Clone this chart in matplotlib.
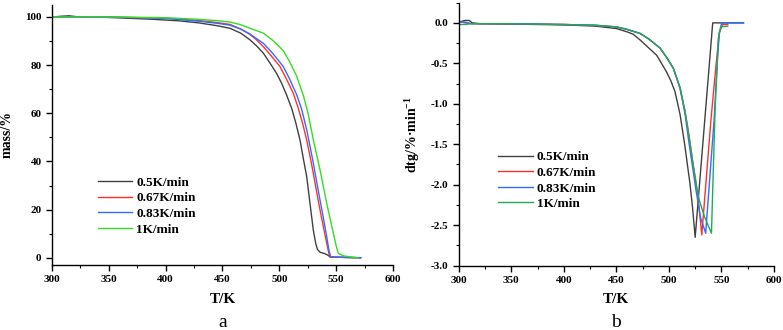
import matplotlib
matplotlib.use("Agg")
import matplotlib.pyplot as plt
from matplotlib.ticker import MultipleLocator, FormatStrFormatter

plt.rcParams['font.family'] = ['Liberation Serif', 'DejaVu Serif']
plt.rcParams['mathtext.fontset'] = 'custom'
plt.rcParams['mathtext.rm'] = 'Liberation Serif:bold'
plt.rcParams['mathtext.bf'] = 'Liberation Serif:bold'
plt.rcParams['mathtext.default'] = 'bf'

labels = ['0.5K/min', '0.67K/min', '0.83K/min', '1K/min']
colors_a = ['#404040', '#ff3030', '#2f6fff', '#33dd22']
colors_b = ['#404040', '#ff3030', '#2f6fff', '#22aa55']

# Panel a: TG mass (%)
tg_T = [
    [300, 308, 315, 322, 350, 386, 412, 430, 445, 456.6, 466, 474.2, 480, 485.9, 492, 497.7, 502, 506.5, 510.9, 514.5, 518.2, 521, 524.1, 527, 529.9, 532, 533.5, 535.8, 540, 543, 544.6, 571],
    [300, 350, 400, 430, 445, 456.6, 466, 474, 480, 485.9, 493, 500.6, 506, 512.3, 516.7, 520.5, 524.1, 527, 529.9, 532.8, 535.8, 538.8, 541.7, 543.5, 544.6, 571],
    [300, 350, 400, 430, 445, 456.6, 466, 474, 480, 485.9, 494, 503.5, 509, 515.2, 519.6, 524.1, 527, 529.9, 532.8, 535.8, 538.8, 541.7, 543.5, 545.2, 572],
    [300, 350, 400, 430, 445, 456.6, 466, 476, 485.9, 495, 503.5, 509, 515.2, 521.1, 525.5, 529.9, 535.8, 541.7, 547.5, 550, 551.9, 556.3, 562, 569.5],
]
tg_m = [
    [100, 100.3, 100.5, 100.1, 99.8, 99.1, 98.4, 97.5, 96.4, 95.3, 93.3, 90.5, 88.0, 85.0, 80.7, 76.5, 72.5, 67.5, 62.0, 56.0, 48.9, 41.5, 33.7, 22.5, 11.5, 6.0, 3.5, 2.3, 1.7, 1.0, 0.3, 0],
    [100, 100, 99.5, 98.5, 97.7, 96.9, 95.0, 92.8, 90.5, 87.7, 83.8, 79.4, 74.5, 68.3, 62.1, 55.8, 48.9, 42.2, 35.1, 27.5, 19.9, 12.8, 6.0, 2.0, 0.3, 0],
    [100, 100, 99.4, 98.2, 97.4, 96.6, 95.0, 93.0, 91.0, 89.1, 85.0, 79.4, 74.3, 67.8, 61.8, 53.1, 46.3, 39.3, 31.7, 24.0, 16.4, 8.8, 3.5, 0.3, 0],
    [100, 100, 99.7, 99.0, 98.5, 97.9, 96.8, 95.0, 93.3, 90.0, 86.0, 81.5, 75.5, 67.5, 59.5, 49.0, 36.5, 22.6, 10.2, 5.0, 1.9, 0.8, 0.4, 0],
]

# Panel b: DTG (%/min)
dtg_T = [
    [300, 303, 306, 310, 313, 320, 350, 400, 430, 450, 460, 466, 472.5, 480, 488.4, 493, 497.9, 502, 505.8, 510.6, 515, 520, 522.5, 525, 541.7, 571],
    [300, 306, 312, 330, 350, 400, 430, 450, 460, 472.5, 481, 491.5, 498, 504.2, 510.6, 515.3, 519.3, 522.5, 525.6, 528.5, 531.3, 540, 545, 548, 551, 556],
    [300, 306, 312, 330, 350, 400, 430, 450, 460, 472.5, 481, 491.5, 498, 504.2, 510.6, 515.3, 519.3, 525.6, 530, 535, 543, 546, 548, 550.3, 571],
    [300, 306, 312, 330, 350, 400, 430, 450, 460, 472.5, 481, 491.5, 498, 504.2, 510.6, 515.3, 519.3, 525.6, 528.9, 534, 540.5, 543.9, 547, 548.6, 549.5, 556],
]
dtg_v = [
    [0.0, 0.02, 0.03, 0.03, 0.0, -0.01, -0.015, -0.025, -0.04, -0.07, -0.11, -0.14, -0.21, -0.30, -0.40, -0.50, -0.61, -0.72, -0.85, -1.13, -1.50, -1.98, -2.28, -2.65, 0.0, 0.0],
    [0.02, 0.0, -0.01, -0.01, -0.01, -0.02, -0.03, -0.05, -0.08, -0.13, -0.20, -0.31, -0.43, -0.56, -0.80, -1.09, -1.40, -1.70, -1.95, -2.25, -2.62, -1.20, -0.50, -0.12, -0.02, -0.02],
    [0.01, 0.01, -0.01, -0.01, -0.01, -0.02, -0.03, -0.05, -0.08, -0.13, -0.20, -0.31, -0.43, -0.56, -0.81, -1.12, -1.50, -2.05, -2.40, -2.60, -1.20, -0.50, -0.12, 0.0, 0.0],
    [-0.02, -0.02, -0.01, -0.01, -0.01, -0.02, -0.03, -0.05, -0.08, -0.13, -0.20, -0.31, -0.43, -0.56, -0.80, -1.09, -1.42, -1.98, -2.19, -2.40, -2.60, -1.09, -0.19, -0.10, -0.05, -0.04],
]

fig = plt.figure(figsize=(7.83, 3.3), dpi=100)
ax1 = fig.add_axes([0.0664, 0.197, 0.4355, 0.788])
ax2 = fig.add_axes([0.5858, 0.195, 0.4027, 0.797])

for T, m, c, lab in zip(tg_T, tg_m, colors_a, labels):
    ax1.plot(T, m, color=c, lw=1.0, label=lab)
for T, v, c, lab in zip(dtg_T, dtg_v, colors_b, labels):
    ax2.plot(T, v, color=c, lw=1.0, label=lab)

ax1.set_xlim(300, 600)
ax1.set_ylim(-3, 105)
ax1.xaxis.set_major_locator(MultipleLocator(50))
ax1.xaxis.set_minor_locator(MultipleLocator(25))
ax1.yaxis.set_major_locator(MultipleLocator(20))
ax1.yaxis.set_minor_locator(MultipleLocator(10))

ax2.set_xlim(300, 600)
ax2.set_ylim(-3, 0.25)
ax2.xaxis.set_major_locator(MultipleLocator(50))
ax2.xaxis.set_minor_locator(MultipleLocator(25))
ax2.yaxis.set_major_locator(MultipleLocator(0.5))
ax2.yaxis.set_minor_locator(MultipleLocator(0.25))
ax2.yaxis.set_major_formatter(FormatStrFormatter('%.1f'))

for ax in (ax1, ax2):
    for s in ('top', 'right'):
        ax.spines[s].set_visible(False)
    for s in ('left', 'bottom'):
        ax.spines[s].set_linewidth(1.0)
    ax.tick_params(which='major', direction='out', length=4, width=1, labelsize=8)
    ax.tick_params(which='minor', direction='out', length=2, width=0.8)
    for lbl in ax.get_xticklabels() + ax.get_yticklabels():
        lbl.set_fontweight('bold')
    ax.set_xlabel('T/K', fontsize=11, fontweight='bold', labelpad=6)

ax1.set_ylabel('mass/%', fontsize=10, fontweight='bold', labelpad=8)
ax2.set_ylabel(r'dtg/%·min$^{-1}$', fontsize=10, fontweight='bold', labelpad=6)

leg_kw = dict(frameon=False, prop={'weight': 'bold', 'size': 9.5}, handlelength=2.6,
              handletextpad=0.3, labelspacing=0.25, borderpad=0)
ax1.legend(loc='upper left', bbox_to_anchor=(0.115, 0.365), **leg_kw)
ax2.legend(loc='upper left', bbox_to_anchor=(0.105, 0.46), **leg_kw)

fig.text(0.2845, 0.01, 'a', fontsize=14, ha='center')
fig.text(0.7871, 0.01, 'b', fontsize=14, ha='center')

fig.savefig('out.png', dpi=100)
